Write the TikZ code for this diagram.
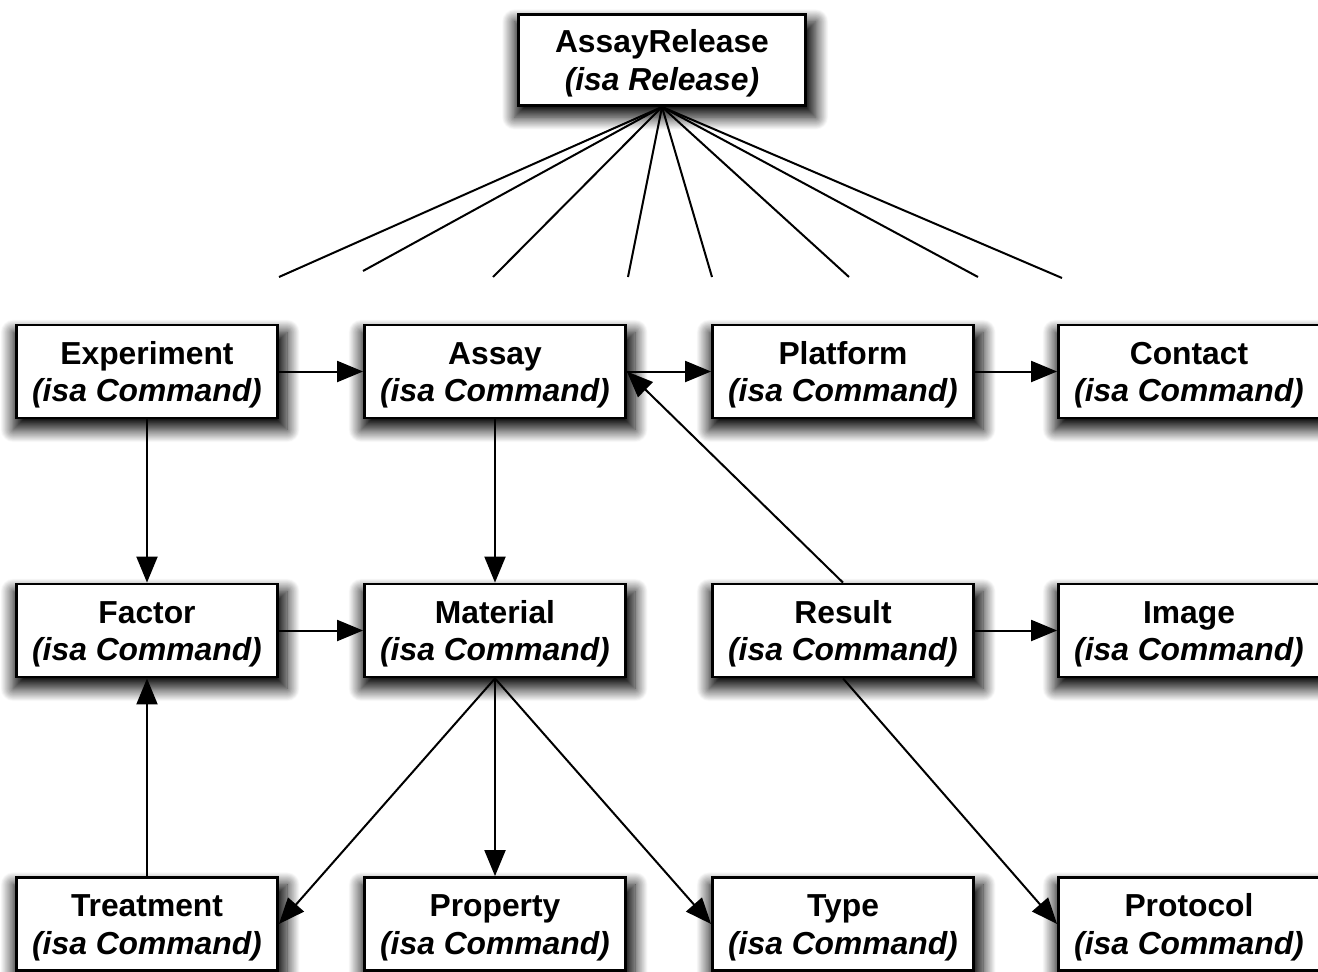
\documentclass[tikz,border=0pt]{standalone}
\usepackage{fontspec}
\setmainfont{Liberation Sans}
\usetikzlibrary{arrows.meta,shadows.blur}
\newcommand{\twoline}[2]{\rule{0pt}{29.5pt}#1\\\textit{#2}\rule[-7pt]{0pt}{0pt}}
\begin{document}
\begin{tikzpicture}[x=1pt,y=-1pt,
  box/.style={draw=black, line width=2.8pt, fill=white,
    minimum width=261pt, minimum height=93pt, inner sep=0pt, align=center,
    font=\fontsize{31.8}{37.5}\selectfont\bfseries,
    blur shadow={shadow xshift=3pt, shadow yshift=-9pt, shadow scale=1.05, shadow blur radius=12pt, shadow blur steps=20, shadow opacity=100}},
  conn/.style={line width=2pt, -{Triangle[length=26pt,width=21pt]}},
  fan/.style={line width=2pt}]
\useasboundingbox (0,0) rectangle (1318,972);
\node[box, minimum width=287pt, minimum height=91pt] (rel) at (662,60) {\twoline{AssayRelease}{(isa Release)}};
% row 1
\node[box] (exp) at (147,371.5) {\twoline{Experiment}{(isa Command)}};
\node[box] (assay) at (495,371.5) {\twoline{Assay}{(isa Command)}};
\node[box] (plat) at (843,371.5) {\twoline{Platform}{(isa Command)}};
\node[box] (contact) at (1189,371.5) {\twoline{Contact}{(isa Command)}};
% row 2
\node[box] (factor) at (147,630.5) {\twoline{Factor}{(isa Command)}};
\node[box] (mat) at (495,630.5) {\twoline{Material}{(isa Command)}};
\node[box] (result) at (843,630.5) {\twoline{Result}{(isa Command)}};
\node[box] (image) at (1189,630.5) {\twoline{Image}{(isa Command)}};
% row 3
\node[box] (treat) at (147,924) {\twoline{Treatment}{(isa Command)}};
\node[box] (prop) at (495,924) {\twoline{Property}{(isa Command)}};
\node[box] (type) at (843,924) {\twoline{Type}{(isa Command)}};
\node[box] (proto) at (1189,924) {\twoline{Protocol}{(isa Command)}};
% fan
\coordinate (f1) at (279,277);
\coordinate (f2) at (363,271);
\coordinate (f3) at (493,277);
\coordinate (f4) at (628,277);
\coordinate (f5) at (712,277);
\coordinate (f6) at (849,277);
\coordinate (f7) at (978,277);
\coordinate (f8) at (1062,278);
\foreach \i in {1,...,8} \draw[fan] (rel.south) -- (f\i);
% arrows
\draw[conn] (exp) -- (assay);
\draw[conn] (assay) -- (plat);
\draw[conn] (plat) -- (contact);
\draw[conn] (exp) -- (factor);
\draw[conn] (assay) -- (mat);
\draw[conn] (result.north) -- (assay.east);
\draw[conn] (factor) -- (mat);
\draw[conn] (result) -- (image);
\draw[conn] (treat) -- (factor);
\draw[conn] (mat.south) -- (treat.east);
\draw[conn] (mat.south) -- (prop);
\draw[conn] (mat.south) -- (type.west);
\draw[conn] (result.south) -- (proto.west);
\end{tikzpicture}
\end{document}
